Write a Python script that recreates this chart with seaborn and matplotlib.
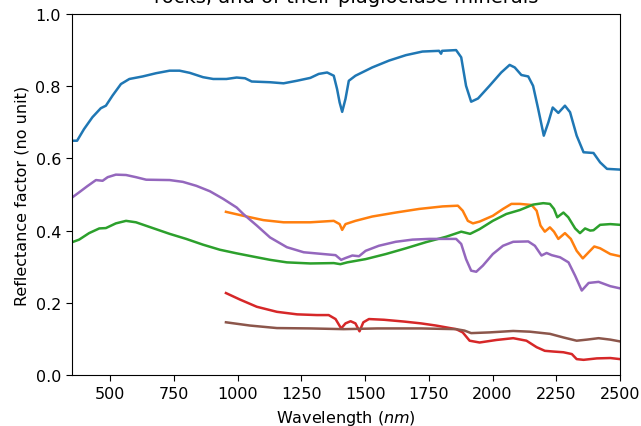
import matplotlib
matplotlib.use("Agg")
import matplotlib.pyplot as plt
import numpy as np
import pandas as pd
import seaborn as sns

# Spectra: wavelength (nm) and reflectance factor
rock_a_wl = [351, 370, 397, 430, 463, 483, 509, 542, 575, 627, 680, 733, 772, 812, 864, 904,
             956, 996, 1029, 1055, 1127, 1180, 1232, 1285, 1318, 1351, 1377, 1390, 1400, 1410,
             1423, 1436, 1462, 1528, 1594, 1660, 1725, 1790, 1798, 1802, 1857, 1877, 1896, 1916,
             1943, 1988, 2034, 2067, 2087, 2113, 2140, 2159, 2179, 2201, 2219, 2236, 2258, 2284,
             2304, 2330, 2357, 2396, 2422, 2449, 2500]
rock_a_refl = [0.649, 0.649, 0.681, 0.714, 0.739, 0.746, 0.774, 0.806, 0.820, 0.827, 0.836, 0.843,
               0.843, 0.837, 0.825, 0.820, 0.820, 0.824, 0.822, 0.813, 0.811, 0.808, 0.815, 0.823,
               0.834, 0.838, 0.829, 0.792, 0.755, 0.729, 0.765, 0.815, 0.829, 0.852, 0.871, 0.886,
               0.896, 0.898, 0.890, 0.898, 0.900, 0.880, 0.801, 0.757, 0.766, 0.801, 0.838, 0.859,
               0.852, 0.831, 0.827, 0.801, 0.737, 0.663, 0.700, 0.741, 0.726, 0.746, 0.728, 0.663,
               0.617, 0.615, 0.589, 0.571, 0.569]

plag_a_wl = [954, 1022, 1101, 1180, 1285, 1377, 1400, 1410, 1423, 1462, 1528, 1620, 1712, 1804,
             1864, 1883, 1903, 1923, 1949, 2001, 2041, 2074, 2107, 2153, 2173, 2188, 2205, 2225,
             2241, 2258, 2284, 2307, 2330, 2354, 2377, 2399, 2422, 2462, 2500]
plag_a_refl = [0.452, 0.441, 0.429, 0.423, 0.423, 0.427, 0.418, 0.402, 0.418, 0.427, 0.439, 0.450,
               0.460, 0.467, 0.469, 0.455, 0.427, 0.420, 0.425, 0.441, 0.460, 0.474, 0.474, 0.471,
               0.455, 0.414, 0.397, 0.409, 0.397, 0.377, 0.393, 0.377, 0.344, 0.323, 0.340, 0.356,
               0.351, 0.335, 0.329]

rock_b_wl = [351, 378, 417, 457, 483, 522, 562, 601, 667, 733, 798, 864, 930, 996, 1061, 1127,
             1193, 1285, 1377, 1403, 1430, 1502, 1581, 1660, 1739, 1818, 1877, 1889, 1912, 1949,
             2001, 2054, 2107, 2159, 2199, 2225, 2241, 2254, 2278, 2297, 2324, 2343, 2363, 2383,
             2396, 2422, 2462, 2500]
rock_b_refl = [0.368, 0.375, 0.393, 0.406, 0.407, 0.420, 0.427, 0.423, 0.407, 0.391, 0.377, 0.361,
               0.347, 0.337, 0.328, 0.319, 0.312, 0.309, 0.310, 0.307, 0.312, 0.321, 0.335, 0.351,
               0.368, 0.383, 0.397, 0.395, 0.391, 0.404, 0.427, 0.446, 0.457, 0.472, 0.476, 0.474,
               0.460, 0.437, 0.450, 0.437, 0.406, 0.393, 0.406, 0.400, 0.401, 0.416, 0.418, 0.416]

plag_b_wl = [954, 1009, 1075, 1154, 1233, 1311, 1357, 1384, 1406, 1423, 1443, 1462, 1478, 1493,
             1515, 1574, 1653, 1719, 1778, 1857, 1883, 1910, 1949, 2015, 2081, 2133, 2173, 2205,
             2238, 2278, 2311, 2330, 2357, 2409, 2462, 2500]
plag_b_refl = [0.227, 0.209, 0.189, 0.175, 0.168, 0.166, 0.166, 0.155, 0.129, 0.143, 0.149, 0.143,
               0.121, 0.146, 0.155, 0.153, 0.148, 0.143, 0.137, 0.127, 0.118, 0.095, 0.090, 0.097,
               0.102, 0.095, 0.077, 0.067, 0.065, 0.063, 0.058, 0.044, 0.042, 0.046, 0.047, 0.044]

rock_c_wl = [351, 378, 410, 444, 470, 490, 522, 562, 601, 641, 733, 785, 838, 891, 943, 996,
             1022, 1075, 1127, 1193, 1259, 1337, 1384, 1406, 1423, 1450, 1476, 1502, 1554, 1620,
             1686, 1752, 1818, 1857, 1877, 1896, 1916, 1936, 1962, 2001, 2041, 2081, 2140, 2166,
             2192, 2212, 2232, 2265, 2298, 2324, 2350, 2377, 2416, 2462, 2500]
rock_c_refl = [0.492, 0.506, 0.523, 0.540, 0.538, 0.548, 0.555, 0.554, 0.548, 0.541, 0.540, 0.535,
               0.524, 0.509, 0.488, 0.464, 0.446, 0.414, 0.381, 0.354, 0.340, 0.335, 0.332, 0.319,
               0.324, 0.331, 0.329, 0.344, 0.358, 0.369, 0.375, 0.377, 0.377, 0.377, 0.363, 0.321,
               0.289, 0.286, 0.303, 0.335, 0.358, 0.369, 0.370, 0.358, 0.331, 0.338, 0.332, 0.326,
               0.312, 0.275, 0.234, 0.255, 0.258, 0.246, 0.240]

plag_c_wl = [954, 1048, 1154, 1285, 1416, 1548, 1719, 1857, 1890, 1916, 1988, 2081, 2146, 2225,
             2278, 2330, 2370, 2416, 2462, 2500]
plag_c_refl = [0.146, 0.137, 0.130, 0.129, 0.127, 0.129, 0.129, 0.127, 0.123, 0.116, 0.118, 0.122,
               0.120, 0.114, 0.104, 0.095, 0.098, 0.102, 0.098, 0.093]

series = [
    ("rock A", rock_a_wl, rock_a_refl),
    ("plagioclase A", plag_a_wl, plag_a_refl),
    ("rock B", rock_b_wl, rock_b_refl),
    ("plagioclase B", plag_b_wl, plag_b_refl),
    ("rock C", rock_c_wl, rock_c_refl),
    ("plagioclase C", plag_c_wl, plag_c_refl),
]

frames = [pd.DataFrame({"sample": name, "wavelength": wl, "reflectance": refl})
          for name, wl, refl in series]
df = pd.concat(frames, ignore_index=True)

fig = plt.figure(figsize=(6.41, 4.27), dpi=100)
ax = fig.add_axes([72 / 641, 51 / 427, 548 / 641, 361 / 427])

sns.lineplot(data=df, x="wavelength", y="reflectance", hue="sample",
             hue_order=[s[0] for s in series], palette="tab10",
             linewidth=1.8, legend=False, ax=ax, estimator=None, sort=False)

ax.set_xlim(350, 2500)
ax.set_ylim(0, 1)
ax.set_xticks([500, 750, 1000, 1250, 1500, 1750, 2000, 2250, 2500])
ax.set_yticks([0.0, 0.2, 0.4, 0.6, 0.8, 1.0])
ax.tick_params(labelsize=11.5, length=4.5)
ax.set_xlabel("Wavelength ($nm$)", fontsize=11.5, labelpad=5)
ax.set_ylabel("Reflectance factor (no unit)", fontsize=11.5)
ax.set_title("rocks, and of their plagioclase minerals", fontsize=14, pad=8.5)

fig.savefig("out.png", dpi=100)
